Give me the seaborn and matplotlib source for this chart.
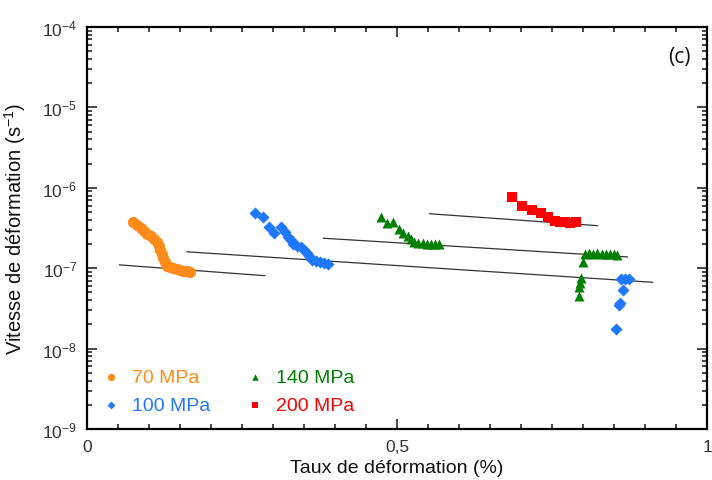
import numpy as np
import pandas as pd
import seaborn as sns
import matplotlib.pyplot as plt
from matplotlib.ticker import MultipleLocator, LogLocator, FuncFormatter

# ---- data ----
x_70 = [0.0737, 0.0801, 0.0866, 0.0925, 0.0973, 0.1027, 0.1081, 0.1124, 0.1156, 0.1177,
        0.1204, 0.1231, 0.1263, 0.1296, 0.1339, 0.1392, 0.1446, 0.1500, 0.1554, 0.1608, 0.1661]
y_70 = [3.72e-7, 3.44e-7, 3.13e-7, 2.87e-7, 2.66e-7, 2.49e-7, 2.31e-7, 2.10e-7, 1.87e-7, 1.68e-7,
        1.50e-7, 1.33e-7, 1.18e-7, 1.075e-7, 1.025e-7, 9.96e-8, 9.77e-8, 9.5e-8, 9.32e-8, 9.23e-8, 9.05e-8]

x_100 = [0.2710, 0.2833, 0.2941, 0.3016, 0.3124, 0.3194, 0.3247, 0.3285, 0.3328, 0.3392,
         0.3452, 0.3505, 0.3543, 0.3581, 0.3624, 0.3694, 0.3758, 0.3823, 0.3882,
         0.8613, 0.8677, 0.8742, 0.8640, 0.8597, 0.8575, 0.8532]
y_100 = [4.81e-7, 4.29e-7, 3.29e-7, 2.71e-7, 3.29e-7, 2.79e-7, 2.42e-7, 2.26e-7, 2.00e-7, 1.91e-7,
         1.82e-7, 1.68e-7, 1.55e-7, 1.40e-7, 1.28e-7, 1.22e-7, 1.18e-7, 1.16e-7, 1.13e-7,
         7.34e-8, 7.34e-8, 7.34e-8, 5.36e-8, 3.69e-8, 3.49e-8, 1.75e-8]

x_140 = [0.4737, 0.4833, 0.4941, 0.5032, 0.5102, 0.5172, 0.5226, 0.5280, 0.5344, 0.5414,
         0.5479, 0.5548, 0.5618, 0.5683,
         0.8032, 0.8102, 0.8167, 0.8231, 0.8301, 0.8371, 0.8435, 0.8500, 0.8554,
         0.7995, 0.7968, 0.7950, 0.7935, 0.7930]
y_140 = [4.38e-7, 3.61e-7, 3.72e-7, 3.07e-7, 2.71e-7, 2.49e-7, 2.31e-7, 2.14e-7, 2.06e-7, 2.04e-7,
         2.02e-7, 2.02e-7, 2.02e-7, 2.00e-7,
         1.50e-7, 1.55e-7, 1.52e-7, 1.55e-7, 1.52e-7, 1.50e-7, 1.49e-7, 1.49e-7, 1.46e-7,
         1.18e-7, 7.62e-8, 6.5e-8, 5.9e-8, 4.47e-8]

x_200 = [0.6849, 0.7022, 0.7183, 0.7323, 0.7441, 0.7548, 0.7629, 0.7710, 0.7790, 0.7887]
y_200 = [7.76e-7, 6.00e-7, 5.30e-7, 4.81e-7, 4.29e-7, 3.90e-7, 3.72e-7, 3.72e-7, 3.68e-7, 3.72e-7]

# fitted lines (start / end)
fit_x = {'70': [0.0521, 0.2871], '100': [0.1608, 0.9124], '140': [0.3811, 0.8721], '200': [0.5521, 0.8234]}
fit_y = {'70': [1.10e-7, 8.07e-8], '100': [1.60e-7, 6.68e-8], '140': [2.36e-7, 1.38e-7], '200': [4.76e-7, 3.38e-7]}

labels = ['70 MPa', '100 MPa', '140 MPa', '200 MPa']
colors = ['#FF8C1A', '#1F78FF', '#008000', '#FF0000']
markers = ['o', 'D', '^', 's']
sizes = [65, 38, 52, 55]

series = [(x_70, y_70), (x_100, y_100), (x_140, y_140), (x_200, y_200)]

sns.set_style('ticks')
plt.rcParams['font.family'] = ['Liberation Sans', 'DejaVu Sans']
plt.rcParams['mathtext.fontset'] = 'custom'
plt.rcParams['mathtext.rm'] = 'Liberation Sans'
plt.rcParams['mathtext.it'] = 'Liberation Sans'

fig = plt.figure(figsize=(7.12, 4.81), dpi=100)
ax = fig.add_axes([0.1222, 0.106, 0.8708, 0.8358])

# fit lines first so markers sit on top
for key in ['70', '100', '140', '200']:
    ax.plot(fit_x[key], fit_y[key], color='#333333', lw=0.9, zorder=1)

for (xs, ys), lab, c, m, s in zip(series, labels, colors, markers, sizes):
    d = pd.DataFrame({'x': xs, 'y': ys})
    sns.scatterplot(data=d, x='x', y='y', ax=ax, color=c, marker=m, s=s,
                    linewidth=0, label=lab, zorder=3)

ax.set_yscale('log')
ax.set_xlim(0, 1)
ax.set_ylim(1e-9, 1e-4)
ax.xaxis.set_major_locator(MultipleLocator(0.5))
ax.xaxis.set_minor_locator(MultipleLocator(0.05))
ax.xaxis.set_major_formatter(FuncFormatter(lambda v, p: ('%g' % v).replace('.', ',')))
ax.yaxis.set_major_locator(LogLocator(base=10, numticks=10))
ax.yaxis.set_minor_locator(LogLocator(base=10, subs=np.arange(2, 10), numticks=20))
ax.yaxis.set_major_formatter(FuncFormatter(lambda v, p: r'$10^{%d}$' % int(round(np.log10(v)))))

ax.tick_params(which='both', direction='in', top=True, right=True, width=1.2,
               labelsize=12.5, labelcolor='#333333', pad=7)
ax.tick_params(which='major', length=7)
ax.tick_params(which='minor', length=3.5)
for sp in ax.spines.values():
    sp.set_linewidth(1.6)
    sp.set_color('black')

ax.set_xlabel('Taux de déformation (%)', fontsize=14, color='#111111')
ax.set_ylabel('Vitesse de déformation (s$^{-1}$)', fontsize=14.5, color='#111111')
ax.yaxis.set_label_coords(-0.095, 0.5)

ax.text(0.955, 0.927, '(c)', transform=ax.transAxes, fontsize=15,
        family='Open Sans', ha='center', va='center', color='#111111')

leg = ax.legend(ncol=2, frameon=False, loc='upper left', bbox_to_anchor=(0.01, 0.17),
                fontsize=14, markerscale=0.65, handlelength=1.0, handletextpad=0.6,
                columnspacing=1.8, labelspacing=0.55, borderaxespad=0)
for t, c in zip(leg.get_texts(), colors):
    t.set_color(c)

fig.savefig('out.png', dpi=100)
